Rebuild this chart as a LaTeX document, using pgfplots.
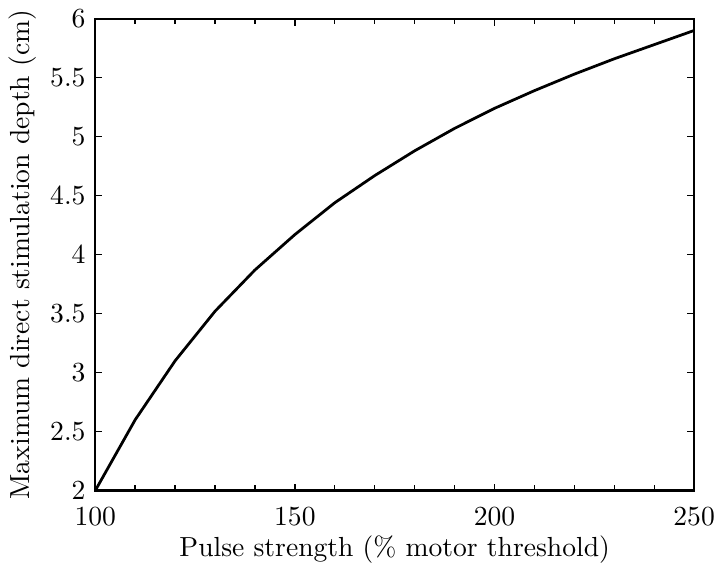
\documentclass[border=0pt]{standalone}
\usepackage{pgfplots}
\pgfplotsset{compat=1.18}
\begin{document}
\begin{tikzpicture}
\begin{axis}[
  scale only axis,
  width=217pt, height=171pt,
  xmin=100, xmax=250, ymin=2, ymax=6,
  xtick={100,150,200,250},
  ytick={2,2.5,3,3.5,4,4.5,5,5.5,6},
  yticklabels={2,2.5,3,3.5,4,4.5,5,5.5,6},
  minor x tick num=4,
  tick align=inside,
  major tick length=2.5pt, minor tick length=2pt,
  tick style={black, line width=0.5pt},
  axis line style={line width=0.8pt},
  xticklabel style={yshift=-2.5pt},
  xlabel={Pulse strength (\% motor threshold)},
  ylabel={Maximum direct stimulation depth (cm)},
  xlabel style={yshift=3pt},
  ylabel style={yshift=-2pt},
]
\addplot[black, line width=1pt] coordinates {
(100,2.0) (110,2.6) (120,3.1) (130,3.52) (140,3.87) (150,4.17) (160,4.44) (170,4.67) (180,4.88) (190,5.07) (200,5.24) (210,5.39) (220,5.53) (230,5.66) (240,5.78) (250,5.9)
};
\end{axis}
\end{tikzpicture}
\end{document}
